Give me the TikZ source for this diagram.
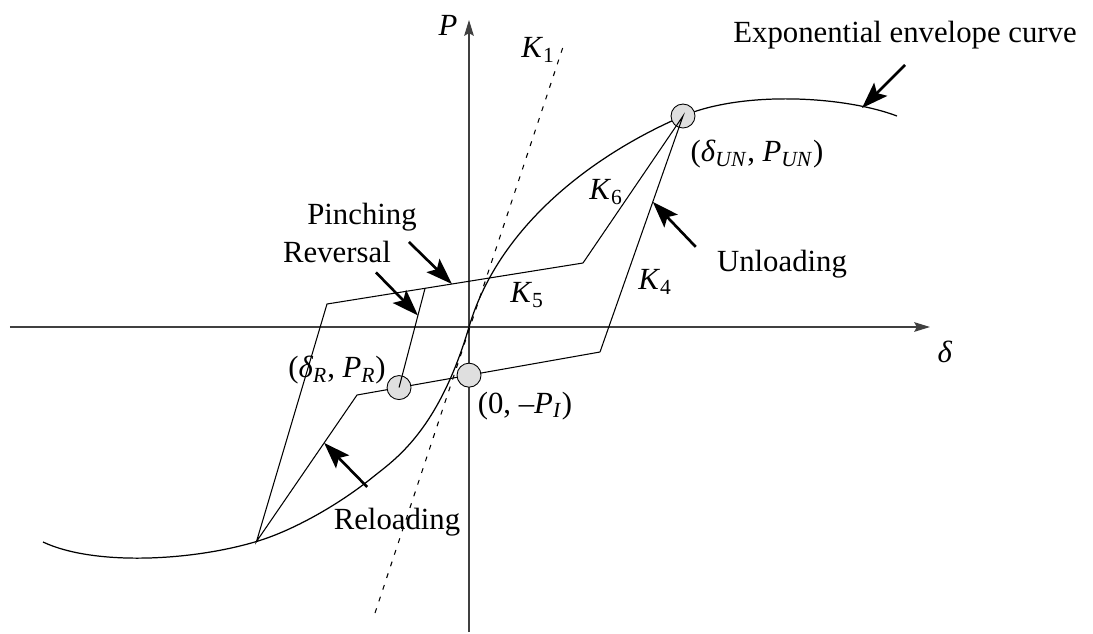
\documentclass[tikz,border=0pt]{standalone}
\usepackage{fontspec}
\setmainfont{Liberation Serif}
\usetikzlibrary{arrows.meta, calc}
\tikzset{
  axisline/.style={line width=0.75pt, black!75,
    -{Stealth[length=9pt, width=5.5pt, inset=1.5pt]}},
  branch/.style={line width=0.6pt},
  envelope/.style={line width=0.7pt},
  initstiff/.style={line width=0.6pt, dash pattern=on 2.8pt off 4.2pt},
  pointer/.style={line width=1.5pt,
    -{Stealth[length=15pt, width=10.5pt, inset=3pt]}},
  statept/.style={circle, draw, line width=0.5pt, fill=gray!25,
    minimum size=0.48cm, inner sep=0pt},
  lbl/.style={font=\fontsize{17.5}{20}\selectfont, inner sep=1pt},
}
\newcommand{\stiff}[1]{\textit{K}\textsubscript{#1}}

\begin{document}
\begin{tikzpicture}
  \useasboundingbox (-9.38,-6.12) rectangle (12.48,6.54);

  % Axes
  \coordinate (xl) at (-9.18,0);
  \coordinate (xr) at (9.22,0);
  \coordinate (yb) at (0,-6.10);
  \coordinate (yt) at (0,6.14);
  \draw[axisline] (xl) -- (xr);
  \draw[axisline] (yb) -- (yt);
  \node[lbl] (dlab) at (9.52,-0.50) {\textit{δ}};
  \node[lbl] (plab) at (-0.42,6.04) {\textit{P}};

  % Initial stiffness K1
  \coordinate (k1b) at (-1.88,-5.72);
  \coordinate (k1t) at (1.88,5.60);
  \draw[initstiff] (k1b) -- (k1t);
  \node[lbl] (k1) at (1.38,5.54) {\stiff{1}};

  % Exponential envelope
  \draw[envelope] (-8.52,-4.30)
    .. controls (-7.50,-4.78) and (-5.55,-4.68) .. (-4.25,-4.29)
    .. controls (-3.45,-4.05) and (-2.52,-3.49) .. (-1.92,-3.00)
    .. controls (-1.50,-2.66) and (-0.62,-2.10) .. (0,0)
    .. controls (0.62,2.10) and (2.60,3.50) .. (4.28,4.22)
    .. controls (5.48,4.73) and (7.50,4.62) .. (8.56,4.22);

  % Corners of the loop
  \coordinate (rl) at (-4.25,-4.29);
  \coordinate (ur) at (2.28,1.28);
  \coordinate (ul) at (-2.84,0.46);
  \coordinate (lr) at (2.62,-0.50);
  \coordinate (ll) at (-2.24,-1.36);
  \coordinate (rv) at ($(ul)!0.383!(ur)$);

  % Branches below the state points
  \draw[branch] (ur) -- (ul) -- (rl) -- (ll) -- (lr);

  % State points
  \node[statept] (unpt) at (4.28,4.22) {};
  \node[statept] (rpt)  at ($(ll)!0.173!(lr)$) {};
  \node[statept] (pipt) at ($(ll)!0.461!(lr)$) {};

  % Branches over the state points
  \draw[branch] (lr) -- (unpt.center) -- (ur);
  \draw[branch] (rv) -- (rpt.center);

  % Pointers
  \coordinate (tipE)  at (7.86,4.38);
  \coordinate (tipP)  at ($(ul)!0.488!(ur)$);
  \coordinate (tipRv) at ($(rv)!0.273!(rpt.center)$);
  \coordinate (tipU)  at ($(lr)!0.636!(unpt.center)$);
  \coordinate (tipRl) at ($(ll)!0.327!(rl)$);
  \draw[pointer] ($(tipE)+(0.86,0.86)$) -- (tipE);
  \draw[pointer] ($(tipP)+(-0.86,0.84)$) -- (tipP);
  \draw[pointer] ($(tipRv)+(-0.84,0.86)$) -- (tipRv);
  \draw[pointer] ($(tipU)+(0.86,-0.90)$) -- (tipU);
  \draw[pointer] ($(tipRl)+(0.86,-0.88)$) -- (tipRl);

  % Labels
  \node[lbl] (envlab) at (8.72,5.84) {Exponential envelope curve};
  \node[lbl] (unlab) at (5.76,3.46)
       {(\textit{δ}\textsubscript{\textit{UN}}, \textit{P}\textsubscript{\textit{UN}})};
  \node[lbl] (k6) at (2.74,2.70) {\stiff{6}};
  \node[lbl] (k4) at (3.72,0.90) {\stiff{4}};
  \node[lbl] (k5) at (1.16,0.64) {\stiff{5}};
  \node[lbl] (unload) at (6.26,1.26) {Unloading};
  \node[lbl] (pinch) at (-2.14,2.20) {Pinching};
  \node[lbl] (rev) at (-2.64,1.50) {Reversal};
  \node[lbl] (rlab) at (-2.64,-0.86)
       {(\textit{δ}\textsubscript{\textit{R}}, \textit{P}\textsubscript{\textit{R}})};
  \node[lbl] (pilab) at (1.12,-1.58)
       {(0, –\textit{P}\textsubscript{\textit{I}})};
  \node[lbl] (reload) at (-1.44,-3.90) {Reloading};
\end{tikzpicture}
\end{document}
